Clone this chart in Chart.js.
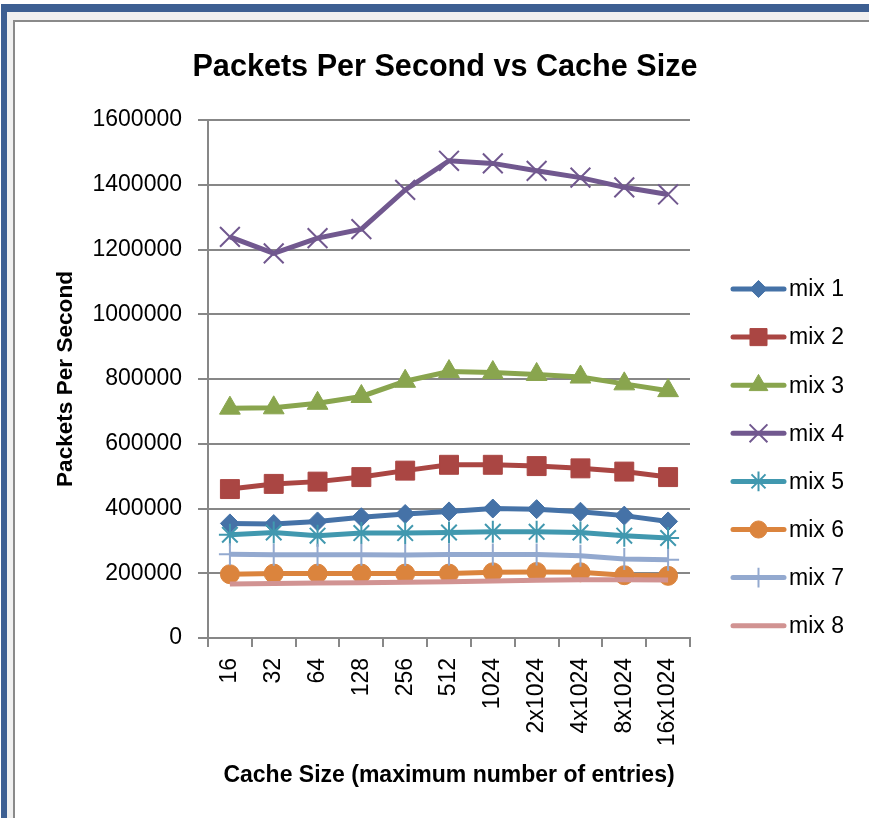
<!DOCTYPE html>
<html>
<head>
<meta charset="utf-8">
<script src="https://cdn.jsdelivr.net/npm/chart.js@4/dist/chart.umd.min.js"></script>
<style>
  html, body { margin: 0; padding: 0; width: 869px; height: 818px; overflow: hidden; background: #fff; }
  .f { position: absolute; right: -20px; bottom: -20px; }
  #c { position: absolute; left: 0; top: 0; }
</style>
</head>
<body>
<div class="f" style="left:1px;top:4px;background:#3d5f92;"></div>
<div class="f" style="left:7px;top:12px;background:#f0f0f0;"></div>
<div class="f" style="left:13px;top:20px;background:#8a8a8a;"></div>
<div class="f" style="left:15px;top:22px;background:#ffffff;"></div>
<canvas id="c" width="869" height="818"></canvas>
<script>
// ---- data ----
const chartTitle = 'Packets Per Second vs Cache Size';
const categories = ['16', '32', '64', '128', '256', '512', '1024', '2x1024', '4x1024', '8x1024', '16x1024'];
const mix1 = [354000, 352000, 360000, 373000, 383000, 391000, 400000, 398000, 390000, 378000, 360000];
const mix2 = [460000, 476000, 483000, 497000, 517000, 535000, 535000, 531000, 524000, 514000, 497000];
const mix3 = [710000, 711000, 725000, 746000, 793000, 823000, 820000, 814000, 806000, 785000, 764000];
const mix4 = [1239000, 1188000, 1235000, 1263000, 1384000, 1474000, 1466000, 1443000, 1422000, 1392000, 1370000];
const mix5 = [319000, 326000, 316000, 324000, 324000, 326000, 328000, 328000, 326000, 316000, 309000];
const mix6 = [197000, 199000, 199000, 199000, 199000, 199000, 203000, 204000, 203000, 194000, 192000];
const mix7 = [259000, 257000, 257000, 257000, 256000, 258000, 258000, 258000, 254000, 244000, 242000];
const mix8 = [167000, 168000, 170000, 171000, 172000, 174000, 176000, 178000, 180000, 180000, 179000];
const seriesNames = ['mix 1', 'mix 2', 'mix 3', 'mix 4', 'mix 5', 'mix 6', 'mix 7', 'mix 8'];
const yTicks = [0, 200000, 400000, 600000, 800000, 1000000, 1200000, 1400000, 1600000];

// ---- styles ----
const seriesValues = [mix1, mix2, mix3, mix4, mix5, mix6, mix7, mix8];
const colors = ['#4572A7', '#AA4643', '#89A54E', '#71588F', '#4198AF', '#DB843D', '#93A9CF', '#D19392'];
const pStyles = ['rectRot', 'rect', 'triangle', 'crossRot', 'star', 'circle', 'cross', 'circle'];
const pRadius = [9.5, 13.4, 12, 14, 11, 9.5, 11, 0];
const pBorder = [1, 1, 1, 2, 2, 1, 2, 1];
const FONT = "'Liberation Sans', Arial, sans-serif";

const datasets = seriesValues.map((vals, i) => ({
  label: seriesNames[i],
  data: vals,
  borderColor: colors[i],
  backgroundColor: colors[i],
  pointBackgroundColor: colors[i],
  pointBorderColor: colors[i],
  pointStyle: pStyles[i],
  pointRadius: pRadius[i],
  pointBorderWidth: pBorder[i],
  borderWidth: 5,
  tension: 0,
  order: 8 - i,
  clip: false
}));

function drawMarker(ctx, style, r, x, y, color, bw) {
  ctx.save();
  ctx.fillStyle = color; ctx.strokeStyle = color; ctx.lineWidth = bw;
  if (r > 0 && Chart.helpers && Chart.helpers.drawPoint) {
    Chart.helpers.drawPoint(ctx, { pointStyle: style, radius: r, rotation: 0, borderWidth: bw }, x, y);
  }
  ctx.restore();
}

const titleAndLegend = {
  id: 'titleAndLegend',
  afterDraw(chart) {
    const ctx = chart.ctx;
    // chart title
    ctx.save();
    ctx.fillStyle = '#000';
    ctx.font = 'bold 30.6px ' + FONT;
    ctx.textBaseline = 'middle';
    ctx.textAlign = 'center';
    ctx.fillText(chartTitle, 445, 68);
    ctx.restore();
    // legend
    const y0 = 289, dy = 48.1;
    seriesNames.forEach((name, i) => {
      const y = y0 + i * dy;
      ctx.save();
      ctx.strokeStyle = colors[i];
      ctx.lineWidth = 5;
      ctx.lineCap = 'round';
      ctx.beginPath(); ctx.moveTo(733, y); ctx.lineTo(784, y); ctx.stroke();
      ctx.restore();
      drawMarker(ctx, pStyles[i], pRadius[i] * 0.9, 758.5, y, colors[i], pBorder[i]);
      ctx.save();
      ctx.fillStyle = '#000';
      ctx.font = '23px ' + FONT;
      ctx.textBaseline = 'middle';
      ctx.textAlign = 'left';
      ctx.fillText(name, 789, y + 1);
      ctx.restore();
    });
  }
};

new Chart(document.getElementById('c'), {
  type: 'line',
  data: { labels: categories, datasets },
  options: {
    responsive: false,
    animation: false,
    devicePixelRatio: 1,
    layout: { padding: { left: 0, right: 179, top: 120, bottom: 0 } },
    plugins: {
      legend: { display: false },
      tooltip: { enabled: false },
      title: { display: false }
    },
    scales: {
      x: {
        type: 'category',
        offset: true,
        grid: { display: true, offset: true, drawOnChartArea: false, drawTicks: true, tickLength: 9, color: '#878787', lineWidth: 2 },
        border: { display: true, color: '#878787', width: 2 },
        ticks: { autoSkip: false, minRotation: 90, maxRotation: 90, padding: 11, color: '#000', font: { family: FONT, size: 23 } },
        title: { display: true, text: 'Cache Size (maximum number of entries)', color: '#000', font: { family: FONT, size: 23, weight: 'bold', lineHeight: 1.2 }, padding: { top: 0, bottom: 29 } },
        afterFit(scale) { scale.height = 180; }
      },
      y: {
        min: 0, max: 1600000,
        afterBuildTicks(scale) { scale.ticks = yTicks.map(v => ({ value: v })); },
        grid: { color: '#878787', lineWidth: 2, drawTicks: true, tickLength: 10 },
        border: { display: true, color: '#878787', width: 2 },
        ticks: { padding: 16, color: '#000', font: { family: FONT, size: 23 }, callback: v => String(v) },
        title: { display: true, text: 'Packets Per Second', color: '#000', font: { family: FONT, size: 22.6, weight: 'bold', lineHeight: 1.2 }, padding: { top: 52, bottom: 0 } },
        afterFit(scale) { scale.width = 208; }
      }
    }
  },
  plugins: [titleAndLegend]
});
</script>
</body>
</html>
